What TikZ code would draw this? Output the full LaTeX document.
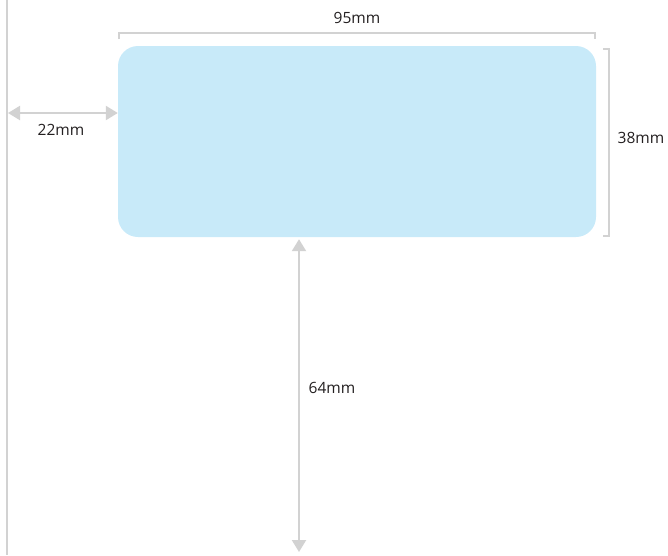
\documentclass[tikz,border=0pt]{standalone}
\usepackage{fontspec}
\setmainfont{Open Sans}
\usetikzlibrary{arrows.meta}
\definecolor{dimgray}{HTML}{D2D2D2}
\definecolor{cardblue}{HTML}{C8EAF9}
\definecolor{txt}{HTML}{231F20}
\begin{document}
\begin{tikzpicture}[x=1pt,y=-1pt,
  dimline/.style={draw=dimgray,line width=2.2pt},
  dimarrow/.style={dimline,{Triangle[length=12pt,width=14pt]}-{Triangle[length=12pt,width=14pt]}},
  lbl/.style={text=txt,font=\fontsize{15.5}{18}\selectfont,inner sep=0pt}]
\useasboundingbox (0,0) rectangle (668,555);
\node[fill=cardblue,rounded corners=20pt,minimum width=478pt,minimum height=191pt,inner sep=0pt,draw=none] (card) at (357,141.5) {};
% left edge line
\coordinate (ltop) at (7,0);
\coordinate (lbot) at (7,555);
\draw[dimline] (ltop) -- (lbot);
% 22mm
\coordinate (lmid) at (8,113);
\draw[dimarrow] (lmid) -- (lmid -| card.west);
\node[lbl] (l22) at (61,130) {22mm};
% 95mm bracket
\coordinate (t1) at (119,39);
\coordinate (t1b) at (119,33);
\coordinate (t2b) at (595,33);
\coordinate (t2) at (595,39);
\draw[dimline] (t1) -- (t1b) -- (t2b) -- (t2);
\node[lbl] (l95) at (357,18) {95mm};
% 38mm bracket
\coordinate (r1) at (603,49);
\coordinate (r1b) at (609,49);
\coordinate (r2b) at (609,236);
\coordinate (r2) at (603,236);
\draw[dimline] (r1) -- (r1b) -- (r2b) -- (r2);
\node[lbl] (l38) at (641,138) {38mm};
% 64mm
\coordinate (bbot) at (299,552);
\draw[dimarrow] ([yshift=-2pt]card.south -| bbot) -- (bbot);
\node[lbl] (l64) at (332,388) {64mm};
\end{tikzpicture}
\end{document}
